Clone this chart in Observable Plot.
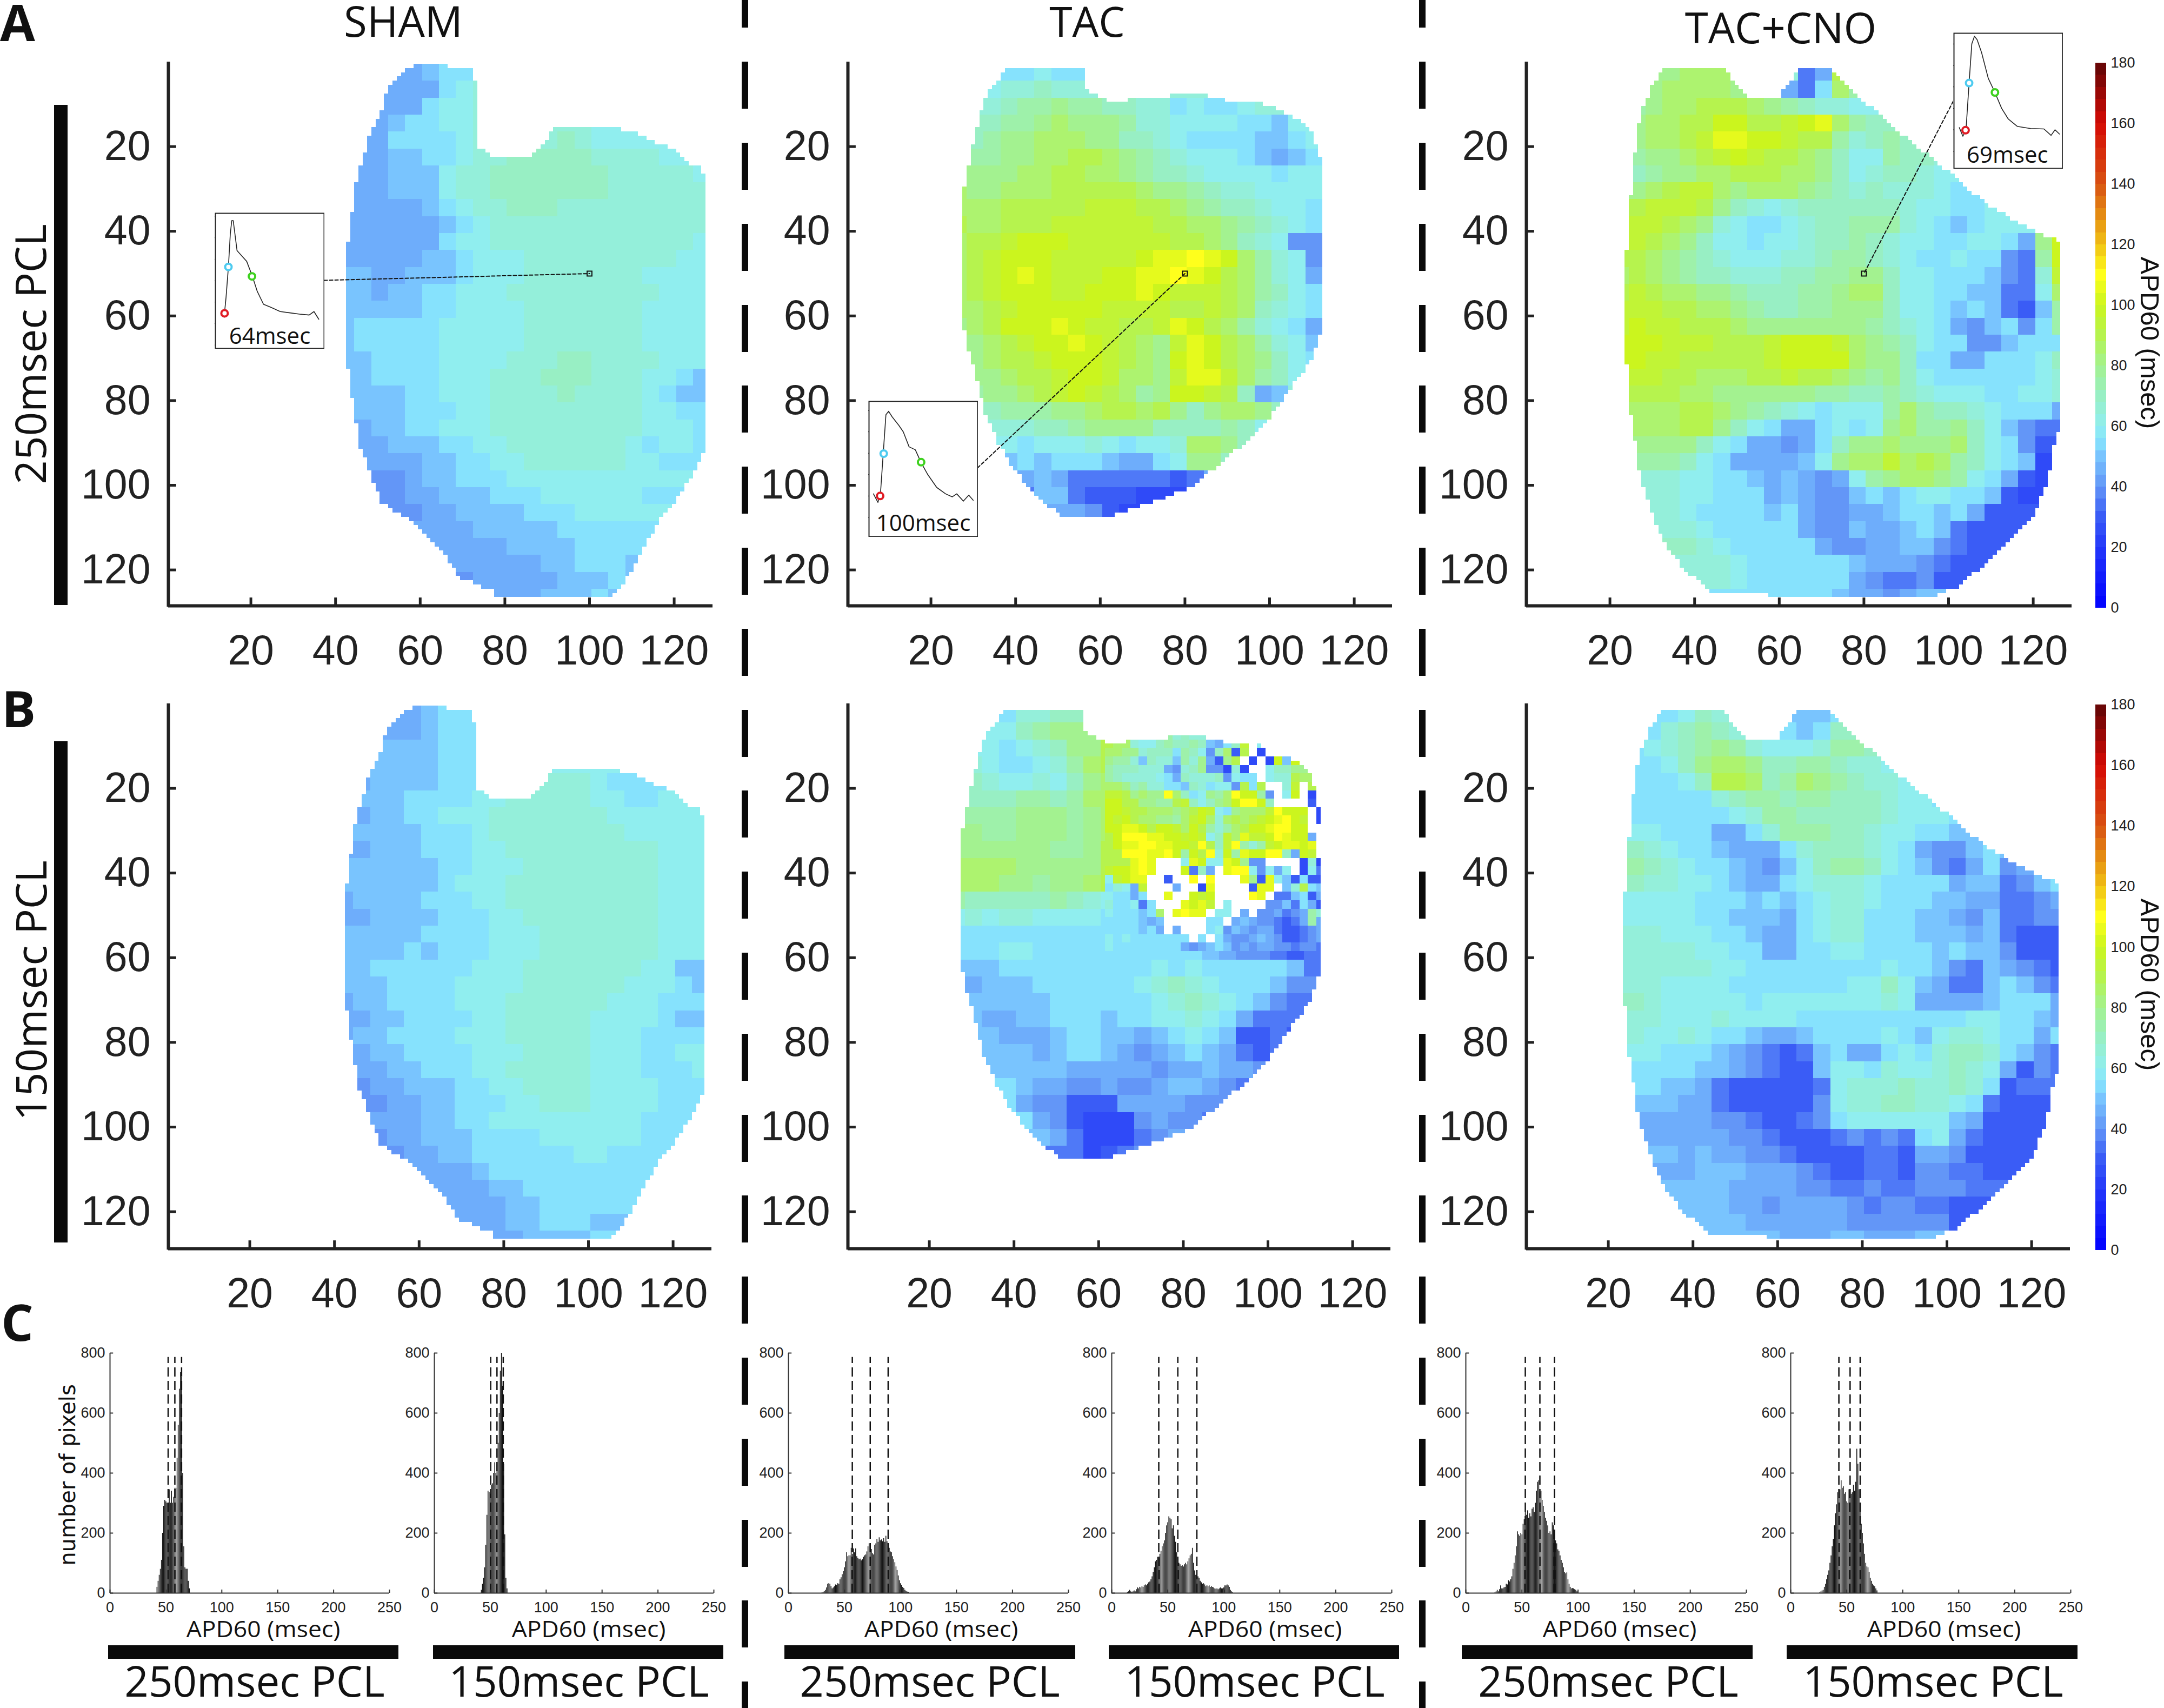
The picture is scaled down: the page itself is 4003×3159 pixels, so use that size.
<!DOCTYPE html>
<html><head><meta charset="utf-8">
<script src="https://cdn.jsdelivr.net/npm/d3@7"></script>
<script src="https://cdn.jsdelivr.net/npm/@observablehq/plot@0.6"></script>
<style>html,body{margin:0;background:#fff}#page{position:relative;width:4003px;height:3159px;overflow:hidden;background:#fff}
#page svg{position:absolute;max-width:none;background:transparent}
.t{position:absolute;white-space:nowrap;color:#111;line-height:1}.b{position:absolute;background:#0a0a0a}</style>
</head><body><div id="page"></div>
<script>
// value code: a=20, b=25, c=30 ... each letter +5 msec; '_' = no value; '.' = outside the heart
const shamFast=[
"..............fghhi",".............fffhij","............fffhiij","...........ffghhiij....jjiiij","...........ffhhhhijj..jkjiiiiii",
"...........ffgghhijjkkkkkjjjjiii","...........ffgggijjkkkkkkkjjjjji","...........ffgggijjkkkkkkkjjjjjj","...........ffffghijjkkkjjjjjjjjj","...........fffffghijjjjjjjjjjjjj",
"..........ffffffhiijjjjjjjjjjjji","..........fffffgghiiijjjjjjjjjii","..........ggffggghiiijjjjjjjiiii","..........ggfgghhiiijjjjjjjjjiii","..........ggggghhiiiijjjjjjjiiii",
"..........ghhhhhiiiiijjjjjjjiiii","..........ghhhhhiiiiijjjjjjjiiii","..........gghhhhiiiijjjkkjjjjiii","..........gghhhhiiijjjkkkjjjiihg","..........gggghhiiijjjjkjjjjihgg",
"...........ggghhhiijjjjjjjjjiihh","...........fgghhiiijjjjjjjjjiiih","...........ffggghhiijjjjjjjihiih","............fffgghhiijjjjjjiihh","............eefgghhhiiiiiiiiii",
"............eeffggghhhiiiiiihh","..............effgggghhhiiiii","...............fffggggghhhhhh","................ffffgggghhhhh","................ffffffgghhhgh",
".................efffffggghgh","...................fffggghggh"];
const shamSlow=[
"..............fghhh",".............ffghh","............gggghhh","...........ggggghhh.....iiihh","...........fgggghhhi..jjjihhh",
"...........ggghhhhiijjjjjiihhi","...........fgghhiiijjjjjjjiiii","...........gggghhhijjjjjjjjiiii","...........fggghhhiijjjjjjjjjii","...........ggggghhiiijjjjjjjjii",
"..........gggggghiiijjjjjjjjjii","..........fgggghhhiijjjjjjjjjii","..........ffgggghhhiijjjjjjjjii","..........ggggghhhhiiijjjjjjjiii","..........gggghghhhiiijjjjjjjiii",
"..........gghhhhhhiiijjjjjjjiigg","..........ggghhhhiiiijjjjjjiiihg","..........fgghhhhiiijjjjjjiiihhh","..........ffgghhhhiijjjjjiiiihgg","..........fgghhhhiiijjjjjiiihhhh",
"...........fgghhhhiiijjjjiiihhii","...........ffgghhhiijjjjjiiihhhi","...........effggghhiijjjjiiiihhh","............effgghhhiijjjiiiihh","............fffgghhiiiiiiiiihh",
"............effggghhhhiiiiiihhh",".............effgghhhhhhiihhhh","...............fffghhhhhhhhhhh","................fffgghhhhhhhhh",".................fffgghhhhhhgg",
"..................ffgghhhgggg","...................ffgggghhgg"];
const tacFast=[
".........hhihhhh","........ijjkjjj","........jkllmllkkjjhihhijji","........kllmnmmmljjiiiihhgiikk",".......klmmnnnmmkkjihhhhgghiilk",
".......llmmnnoonmlkjiiihgfghikkj",".......mmmnnoonnmlkkjiiiihiikjii","......nmmnnnooooonmmlkjjiiiih","......nnnooooopppoonmlkkjiihhg","......onnoooppppppoonnmlkjihf",
"......noopqqqppppppoonmkjiee","......nopqqqpppppqrrsrqnljiee","......nopqrqpppqqrrsrqonljifh","......nopqqqppqqqrqppponlkihh","......nnopqqqqqppppooponkjihh",
"......mnoqqqrqppooprqonljihfg",".......mnopqqrqponmprqonljigg",".......mnoopqqqponmqrqonmkihg",".......mmnoopqqpnnmprrpnlkihh",".......lmmnopqponlmqqpokfgji",
"........klllmmnoonomkmnnmkifhij","........jjjkklmmmmkkkklkiihihg",".........ihiiijihiijnnmkhhgfg",".........ghghhhgffhimmkhhffe","..........fgfddddddcdfhhggf",
"..........dggdcccbbbcff","............ffecbbbbc"];
const tacSlow=[
".........hjjkkl","........iiklmmm","........ihijkmmoomllml",".......jihhijlnoonn",".......kjiijikmn",
".......kkkllklnn",".......lllmmmlmnnn","......mmllmmmlmn","......mmmmmmllmo","......nnnnmmmmmo",
"......nnnmmlmmno","......lkkkkklkji","......ijijjiiiih","......hhhhhhhhhh","......hhhiihhhhhhhhhhgfeedcd",
".......gghhhhhhhhhihihhhhhgdd",".......fggghhhhhhijkjihhhgee",".......ggggghhhhhhijkjihgedd",".......gffgghhhghhiijihfddd","........gfffghhggfghihgccdc",
"........gggfghhgfefghgfdcd",".........ggggfffffeffgffed",".........hgffeefeefggfed",".........hfeecccffffee","..........hfecbbbefeede",
"...........gfdbbbdef","............ddbcde"];
const tacSlowPatch=[
"...........................",
".....kkljkjjihij...........",
"onnjiiklkklkgfhkp_i........",
"nnmmjkkkhlkieknco_b___o____",
"mlljgkjjgljmfcmo_b_bqgql___",
"lkkkjjjfejkmeebjb__ikkmmk__",
"lkjjjjihfkjjjkeihh_ijjon.__",
"nnmkljjhhgkjhiieoho__jp_o__",
"ppomnmmsnkhimlnsqqle_iq_b__",
"qqoommllopkikmnqssqk____c__",
"qqpoonnnmnoqpihmnnnpsqqq_bb",
"qpqonnmmlnpqnjnonopqrsqp_bb",
"qqrrqoqqpnqoljlnoqqrssqq__i",
"oqsssrrqqpqpikpnrppqsrqqf__",
"oqrrssrrqqpsokpsljlpqrrqr__",
"oosssrrsqlqosjqlrqqsskfqp__",
"ooorsr___irqiirqmee____bjb_",
"pqqrsr___qdkf_rssieifi_bidd",
"ipqrr__c__s_s___rmcrigchccc",
"hjifp___f__br____crr_gjohg_",
"ihhfh__r__qpq____sr_ddghcf_",
"jhhidh___rqrp_i____eegdhfcc",
"ihhhghn_rsrr_ii_f_eefdeflj",
"hhhhgfg_____hh_fgfeedcdflfm",
"hhhhghf_f___hiegfeffdccdeff",
"ihihhhhhhh_h_hfeefgfeccdefd",
"ihhhhhhhhfefghgefeffeedeedd"];
const cnoFast=[
"........mnnnljjjdfo","......lmnnnnmlifdhnl","......lmnnooonmlkjjiiikkjj","......mnnooqqoopqrnlkkk","......mnnoprrqqpooljklkk",
"......lmmnopqpoonmkiilkkj","......klmmnnooonnmkijkkjii","......mnoppnmnnnmlkjkjjjihhi","......opppomkjijkkkkkkjiihhii","......pponmjihhijkkllljihghiiij",
"......ponmkiihiijkklkjiihhiihfmq","......onmlkjiiijjkllkjihhihhedlq",".....nonmlkkjjjkkllmmkiihhhgedjp",".....oponnmmlkkkllmnnkiihhggddin",".....pppoonnmlkkllmmmkiihghgdcgl",
".....pqppooonmmmmmmmlkjihfeghehl","......qqpppooopqqqpnmlkihheeghhhk","......qppooooopqqqqnmmkhhffhhhik","......ppoonnnoopoonmlmkihhhhhhij","......ooonnmmmmmmllkklkjiiihhiij",
"......nnnoonmlkjihiiilnlkkjihhhf","......nnnoomkihffhihimnllmkigedd",".......mmmkihffefhkmmnmmmnkihec",".......llkihffffgimnnpnonlkihgb",".......jjiihhgfgfefilmnnmlihfcb",
".......jjiihhhfgfeeghghiihhgcb","........jihhhhghfeeffghhghfcc","........jjihhhhhfeegffghgdcc",".........kjihhhhhfeeffggedc","..........jjihhhhhhgfffedc",
"...........jihhhhhhfeddec","..............hhhhgffefg"];
const cnoSlow=[
"........hikjj...ggh",".......hjklkjiihghkk","......hijklmljiiijllk","......hhikmnnmkkllkjjii","......hhhikoonklnmlkjjii",
"......hhhhhjkllkllkkkjiih","......hhhhhhijllkkkkkjiiih",".....iiihhhffhjlllkkjiihhggg","......kjihhgfffhjkkkjihfeeghg","......lkjihhgfegikllkihgedfhef",
"......kjjiihgffhijjjihhhhfggdegh","......iiiihhhghghijjihhhggffddef","......iiiihhgggfhijjhhhggfegddee",".....jjjiiihhgffhijjhhhgggfgdccc",".....jjjjjiihhffhhiihhhhghggeccc",
".....jjjjjjiihhhhhhhhihhgedgfedc","......jjiiiihhhhhhhiikigfddghgedd","......kjiiiiihiiiiiiijiffffghhhfe","......jjiiijiiiihhhhhhhhhhiihhgf","......jiijihhgffghhhhihgijjihhfh",
"......iihhhgfedcdghffhihjkkjhged",".......hhhggfedccgiihjiijkjifced",".......hggfdcccccdijjjkjjkjhcdd",".......ggffdccccceijjkkjjihdccc",".......ffffeedccdehiiiiiigfcccc",
"........ffffeedcccdededhifdccc","........gfgffeedccccddcffeccc",".........fgggfffedccddceeddc","..........ggffffeeddeddeeed","...........gffeffffedeeddc",
"............gffffffeeeeeec","..............gfffggfffg"];

const shamOutline=[[60,.5],[69.7,1.2],[72.6,1.2],[73.7,9.3],[73.7,20],[77.7,23],[84.5,23],[88.5,20.5],[91.9,15.4],[103.3,15.4],[110.1,16.4],[120.4,21],[123.8,24.6],[126.7,25.1],[127.8,31.2],[127.8,90.3],[126.1,94.3],[122.1,101.5],[117,107.6],[113.6,113.7],[109,121.9],[105.6,126.4],[78.2,126.4],[77.1,124.9],[69.1,121.9],[66.8,117.8],[58.8,109.1],[50.9,104],[48.6,98.4],[45.7,90.3],[45.2,86.2],[43.4,76],[42.6,68.9],[42.6,44.5],[43.8,37.3],[44.9,29.2],[45.6,25.6],[48.6,15.9],[50.9,11.4],[52.6,5.8],[56.6,2.2]];
const tacOutline=[[37.7,1.4],[56.8,1.4],[56.8,6.3],[61.5,9.3],[72.1,8.6],[83.8,7],[85.9,8.6],[100.7,10.3],[109.7,15.4],[111.9,22],[112.9,25.6],[112.9,61.2],[110.3,69.9],[106,76],[98.6,86.2],[93.9,90.3],[81.7,100.5],[74.3,103.5],[62.6,107.4],[51,107.4],[44.6,102.5],[39.8,96.4],[36.1,90.3],[32.9,83.1],[30.8,75],[28.7,66.9],[27.6,61.2],[27.6,31.2],[28.7,25.6],[29.8,20],[32.4,9.8],[35,5.2],[37.2,2.7]];
const cnoOutline=[[32.6,1.2],[47.2,1.2],[50.4,6.3],[52.5,8.3],[59.9,8.3],[65.2,1.2],[71.6,1.2],[73.2,3.2],[75.8,5.2],[80.1,9.3],[90.7,18.5],[100.3,26.1],[109.8,34.3],[121.5,40.4],[127,42.9],[127,84.2],[124.7,91.3],[123.6,99.4],[120.4,106.6],[115.1,112.7],[108.7,118.8],[102.4,123.9],[96,126.4],[57.8,126.4],[57.8,125.2],[43.5,125.2],[37.6,119.8],[33.4,114.2],[30.2,107.6],[27.5,99.4],[25.9,89.3],[24.7,82.1],[23.5,64.3],[23.5,52.1],[24.7,34.3],[26.5,16.9],[27.5,11.9],[30.2,5.2],[32.4,2.2]];

const mapTicks=[20,40,60,80,100,120];
const apdStops=[0,20,30,40,50,55,60,70,80,90,100,110,120,130,140,160,180];
const apdColors=["#0000ff","#2438fa","#3a5cf6","#6396f7","#79c4fe","#86e2fd","#90eeef","#98efc4","#a3f290","#b6f34e","#cbf51e","#ffff1c","#f0c015","#e48a12","#d85212","#d50a05","#5e0606"];
const colorTicks=[0,20,40,60,80,100,120,140,160,180];

const traceSham=[[458,722],[463,735],[467,690],[472,618],[476,540],[479,510],[482,510],[486,545],[490,580],[498,590],[510,605],[522,640],[532,675],[545,705],[560,712],[580,722],[600,725],[620,728],[640,730],[650,722],[660,740]];
const traceTac=[[258,1145],[268,1165],[274,1140],[280,1050],[286,960],[292,952],[300,965],[315,985],[325,1000],[338,1035],[352,1042],[365,1072],[380,1100],[400,1130],[420,1145],[435,1152],[445,1145],[460,1162],[472,1148],[482,1160]];
const traceCno=[[1110,295],[1118,315],[1125,300],[1132,190],[1138,100],[1144,82],[1150,90],[1160,120],[1175,180],[1190,213],[1205,250],[1220,275],[1240,292],[1270,297],[1300,298],[1316,313],[1325,300],[1335,310]];

const histTicksX=[0,50,100,150,200,250];
const histTicksY=[0,200,400,600,800];
const shamFastStart=42, shamFastCounts=[20,40,60,80,110,200,290,310,305,300,295,345,300,340,300,320,350,350,450,560,680,735,720,400,155,85,80,80,40,15];
const shamSlowStart=42, shamSlowCounts=[10,30,50,85,160,260,340,335,330,360,365,400,435,400,430,500,600,740,800,690,430,195,50,15];
const tacFastStart=30, tacFastCounts=[3,4,6,10,18,30,32,30,22,15,18,22,28,26,32,30,45,52,62,72,85,105,135,122,125,125,150,130,148,135,148,122,116,112,114,108,112,120,125,128,138,155,165,150,146,132,128,160,165,180,170,185,175,178,172,182,170,190,172,158,150,138,135,122,112,102,88,76,58,42,32,26,20,16,10,6,4,3];
const tacSlowStart=14, tacSlowCounts=[3,5,10,5,3,5,8,5,12,18,15,20,18,22,20,25,28,25,30,35,38,45,55,70,85,105,110,120,115,130,140,155,165,175,200,225,235,255,250,245,215,225,190,170,135,110,100,95,90,92,88,95,100,95,105,115,125,130,150,100,75,60,58,55,50,40,35,30,32,28,22,25,22,25,20,22,20,18,15,14,15,12,15,18,15,15,18,25,25,28,25,20,10,5,3];
const cnoFastStart=26, cnoFastCounts=[3,5,10,5,12,25,15,15,18,20,30,28,42,38,45,55,80,100,125,155,205,195,190,200,195,230,245,270,260,275,250,265,255,280,285,270,300,340,370,375,335,340,310,290,270,250,240,225,200,205,195,235,225,195,175,165,145,140,125,110,100,85,70,65,68,45,30,20,15,16,15,12,10,5,3];
const cnoSlowStart=26, cnoSlowCounts=[3,5,8,10,20,30,45,60,75,100,125,155,180,225,265,295,335,320,345,375,350,355,330,335,305,300,345,325,330,335,360,340,370,480,430,345,295,230,200,165,130,100,88,85,70,50,40,30,25,22,15,8];
const shamFastDashes=[52,58,64], shamSlowDashes=[50.4,56,61.6], tacFastDashes=[57,73,89], tacSlowDashes=[42,59,76], cnoFastDashes=[53,66,79], cnoSlowDashes=[43,53,62];

const page=document.getElementById("page");
const add=el=>(page.appendChild(el),el);
const colorOpt={type:"linear",domain:apdStops,range:apdColors,interpolate:"rgb",clamp:true};
const letter=c=>20+5*"abcdefghijklmnopqrstuvwxyz".indexOf(c);
function lookup(grid,patch,x,y){
  if(patch&&x>=62&&y>=5){
    const p=patch[Math.floor((y-5)/2)];const ch=p&&p[Math.floor((x-62)/2)];
    if(ch==="_")return null;
    if(ch&&ch!==".")return letter(ch);
  }
  const r0=Math.floor((y-1)/4),c0=Math.floor((x-1)/4);
  for(let r=r0;r>=0;r--){
    const s=grid[r]||"";
    for(let k=0;k<32;k++)for(const c of [c0-k,c0+k]){const ch=s[c];if(ch&&ch!==".")return letter(ch);}
  }
  return 60;
}
function runs(grid,outline,patch){
  const out=[];
  for(let y=1;y<=128;y++){
    let cur=null;
    for(let x=1;x<=128;x++){
      const v=d3.polygonContains(outline,[x,y])?lookup(grid,patch,x,y):null;
      if(cur&&cur.v===v){cur.x2=x+.5;continue;}
      if(v!=null){cur={v,x1:x-.5,x2:x+.5,y1:y-.5,y2:y+.5};out.push(cur);}else cur=null;
    }
  }
  return out;
}
const U=7.83;
function mapPanel(o){
  const L=250,T=40,R=70,B=180,W=o.endX-o.axisX,H=o.axisY-o.y0;
  const xa=(o.axisX-o.x0)/U,xb=(o.endX-o.x0)/U,yb=H/U;
  const marks=[
    Plot.rect(runs(o.grid,o.outline,o.patch),{x1:"x1",x2:"x2",y1:"y1",y2:"y2",fill:"v",shapeRendering:"crispEdges"}),
    Plot.ruleY(mapTicks,{x1:xa,x2:xa+1.9,stroke:"#222",strokeWidth:5}),
    Plot.ruleX(mapTicks,{y1:yb,y2:yb-1.9,stroke:"#222",strokeWidth:5}),
    Plot.ruleX([xa],{y1:0,y2:yb+.3,stroke:"#222",strokeWidth:6}),
    Plot.ruleY([yb],{x1:xa,x2:xb,stroke:"#222",strokeWidth:6}),
    Plot.axisY(mapTicks,{anchor:"left",tickSize:0,tickPadding:33,fontSize:77,color:"#222",label:null}),
    Plot.axisX(mapTicks,{anchor:"bottom",tickSize:0,tickPadding:54,fontSize:77,color:"#222",label:null})
  ];
  if(o.pick){
    marks.push(Plot.line([o.from,o.pick],{x:d=>d[0],y:d=>d[1],stroke:"#111",strokeWidth:2,strokeDasharray:"6 4"}));
    marks.push(Plot.dot([o.pick],{x:d=>d[0],y:d=>d[1],symbol:"square",r:5,stroke:"#111",strokeWidth:2,fill:"none"}));
  }
  const svg=Plot.plot({width:L+W+R,height:T+H+B,marginLeft:L,marginTop:T,marginRight:R,marginBottom:B,
    x:{domain:[xa,xb]},y:{domain:[yb,0]},color:colorOpt,style:{fontFamily:"Liberation Sans",background:"transparent"},marks});
  svg.style.left=(o.axisX-L)+"px";svg.style.top=(o.y0-T)+"px";add(svg);
}
mapPanel({grid:shamFast,outline:shamOutline,x0:307,axisX:311,endX:1318,y0:114,axisY:1120,from:[37.3,51.6],pick:[100,50]});
mapPanel({grid:tacFast,outline:tacOutline,x0:1565,axisX:1568,endX:2575,y0:114,axisY:1120,from:[31,95.9],pick:[80,50]});
mapPanel({grid:cnoFast,outline:cnoOutline,x0:2821,axisX:2823,endX:3832,y0:114,axisY:1120,from:[101.1,9.3],pick:[80,50]});
mapPanel({grid:shamSlow,outline:shamOutline,x0:305,axisX:311,endX:1316,y0:1301,axisY:2309});
mapPanel({grid:tacSlow,patch:tacSlowPatch,outline:tacOutline,x0:1562,axisX:1568,endX:2572,y0:1301,axisY:2309});
mapPanel({grid:cnoSlow,outline:cnoOutline,x0:2818,axisX:2823,endX:3829,y0:1301,axisY:2309});

function inset(o){
  const dot=(p,c)=>Plot.dot([p],{x:d=>d[0],y:d=>d[1],r:6,stroke:c,strokeWidth:4,fill:"white"});
  const svg=Plot.plot({width:o.w,height:o.h,margin:1,x:{domain:o.xd},y:{domain:o.yd},
    style:{fontFamily:"Open Sans",background:"white"},marks:[
    Plot.frame({stroke:"#222",strokeWidth:2}),
    Plot.line(o.trace,{x:d=>d[0],y:d=>d[1],stroke:"#222",strokeWidth:1.6}),
    dot(o.red,"#e01b24"),dot(o.cyan,"#4ecbf0"),dot(o.green,"#3ed11f"),
    Plot.text([o.label],{x:o.tx,y:o.ty,text:d=>d,fontSize:42,fill:"#111"})]});
  svg.style.left=o.l+"px";svg.style.top=o.t+"px";add(svg);
}
inset({l:397,t:393,w:203,h:252,xd:[445,671],yd:[808,493],trace:traceSham,red:[464,726],cyan:[472,618],green:[521,640],label:"64msec",tx:558,ty:780});
inset({l:1606,t:741,w:203,h:252,xd:[248,492],yd:[1245,929],trace:traceTac,red:[273,1150],cyan:[281,1051],green:[365,1071],label:"100msec",tx:370,ty:1215});
inset({l:3613,t:60,w:203,h:252,xd:[1098,1342],yd:[390,75],trace:traceCno,red:[1124,301],cyan:[1132,191],green:[1190,213],label:"69msec",tx:1218,ty:360});

function colorbar(top,bottom){
  const bands=d3.range(0,180,4);
  const svg=Plot.plot({width:120,height:bottom-top+40,marginLeft:0,marginRight:100,marginTop:20,marginBottom:20,
    x:{domain:[0,1],axis:null},y:{domain:[0,180]},color:colorOpt,style:{fontFamily:"Liberation Sans",background:"transparent"},marks:[
    Plot.rect(bands,{x1:0,x2:1,y1:d=>d,y2:d=>d+4,fill:d=>d+2,shapeRendering:"crispEdges"}),
    Plot.axisY(colorTicks,{anchor:"right",tickSize:0,tickPadding:8,fontSize:27,color:"#222",label:null})]});
  svg.style.left="3876px";svg.style.top=(top-20)+"px";add(svg);
}
colorbar(116,1124);colorbar(1303,2312);

function hist(o){
  const L=70,R=40,T=10,B=60,Y0=2502,H=444,W=o.x250-o.x0;
  const bars=o.counts.map((c,i)=>({x:o.start+i,c}));
  const svg=Plot.plot({width:L+W+R,height:T+H+B,marginLeft:L,marginRight:R,marginTop:T,marginBottom:B,
    x:{domain:[0,250]},y:{domain:[0,800]},style:{fontFamily:"Liberation Sans",background:"transparent"},marks:[
    Plot.ruleX(bars,{x:"x",y1:0,y2:"c",stroke:"#111",strokeWidth:1.5}),
    Plot.ruleX(o.dashes,{y1:0,y2:786,stroke:"#111",strokeWidth:2.5,strokeDasharray:"17 8"}),
    Plot.ruleX([0],{y1:0,y2:800,stroke:"#333",strokeWidth:2}),
    Plot.ruleY([0],{x1:0,x2:250,stroke:"#333",strokeWidth:2}),
    Plot.ruleY(histTicksY,{x1:0,x2:3,stroke:"#333",strokeWidth:2}),
    Plot.ruleX(histTicksX,{y1:0,y2:11,stroke:"#333",strokeWidth:2}),
    Plot.axisY(histTicksY,{anchor:"left",tickSize:0,tickPadding:9,fontSize:27,color:"#222",label:null}),
    Plot.axisX(histTicksX,{anchor:"bottom",tickSize:0,tickPadding:16,fontSize:27,color:"#222",label:null})]});
  svg.style.left=(o.x0-L)+"px";svg.style.top=(Y0-T)+"px";add(svg);
}
hist({x0:203,x250:720,start:shamFastStart,counts:shamFastCounts,dashes:shamFastDashes});
hist({x0:803,x250:1320,start:shamSlowStart,counts:shamSlowCounts,dashes:shamSlowDashes});
hist({x0:1458,x250:1976,start:tacFastStart,counts:tacFastCounts,dashes:tacFastDashes});
hist({x0:2056,x250:2574,start:tacSlowStart,counts:tacSlowCounts,dashes:tacSlowDashes});
hist({x0:2711,x250:3230,start:cnoFastStart,counts:cnoFastCounts,dashes:cnoFastDashes});
hist({x0:3312,x250:3830,start:cnoSlowStart,counts:cnoSlowCounts,dashes:cnoSlowDashes});

// page annotations (plain HTML around the plots)
const metric={"Open Sans":.888,"Liberation Sans":.8465,"DejaVu Sans":.9};
function txt(s,x,base,fs,o={}){
  const d=document.createElement("div");d.className="t";d.textContent=s;
  const fam=o.font||"Open Sans";d.style.fontFamily=`"${fam}"`;d.style.fontSize=fs+"px";
  if(o.weight)d.style.fontWeight=o.weight;
  if(o.rotate){d.style.left=x+"px";d.style.top=base+"px";d.style.transform=`translate(-50%,-50%) rotate(${o.rotate}deg)`;}
  else{d.style.top=(base-metric[fam]*fs)+"px";d.style.left=x+"px";
    if(!o.left)d.style.transform=`translateX(-50%)${o.sx?` scaleX(${o.sx})`:""}`;}
  add(d);
}
const box=(x1,x2,y1,y2)=>{const d=document.createElement("div");d.className="b";d.style.cssText=`left:${x1}px;width:${x2-x1}px;top:${y1}px;height:${y2-y1}px`;add(d);};
txt("A",0,76,94,{weight:700,left:true});txt("B",3,1345,94,{weight:700,left:true});txt("C",2,2480,94,{weight:700,left:true});
txt("SHAM",746,68,78);txt("TAC",2011,68,77);txt("TAC+CNO",3294,80,78);
txt("250msec PCL",55,655,78,{rotate:-90});txt("150msec PCL",56,1832,78,{rotate:-90});
box(100,125,194,1119);box(100,125,1371,2298);
txt("APD60 (msec)",3976,634,49,{rotate:90,font:"Liberation Sans"});txt("APD60 (msec)",3976,1821,49,{rotate:90,font:"Liberation Sans"});
txt("number of pixels",125,2728,40,{rotate:-90,font:"DejaVu Sans"});
[[200,737,471,487,"250msec PCL"],[801,1338,1071,1089,"150msec PCL"],[1451,1989,1720,1741,"250msec PCL"],[2051,2588,2321,2340,"150msec PCL"],[2704,3242,2975,2996,"250msec PCL"],[3305,3843,3576,3596,"150msec PCL"]].forEach(([a,b,c,e,s])=>{
  box(a,b,3043,3068);txt(s,c,3138,78);txt("APD60 (msec)",e,3028,42,{sx:1.06});
});
for(const x of [1372,2625])for(let k=-1;k<=20;k++)box(x,x+12,114.2+149.8*k,114.2+149.8*k+87);
</script></body></html>
